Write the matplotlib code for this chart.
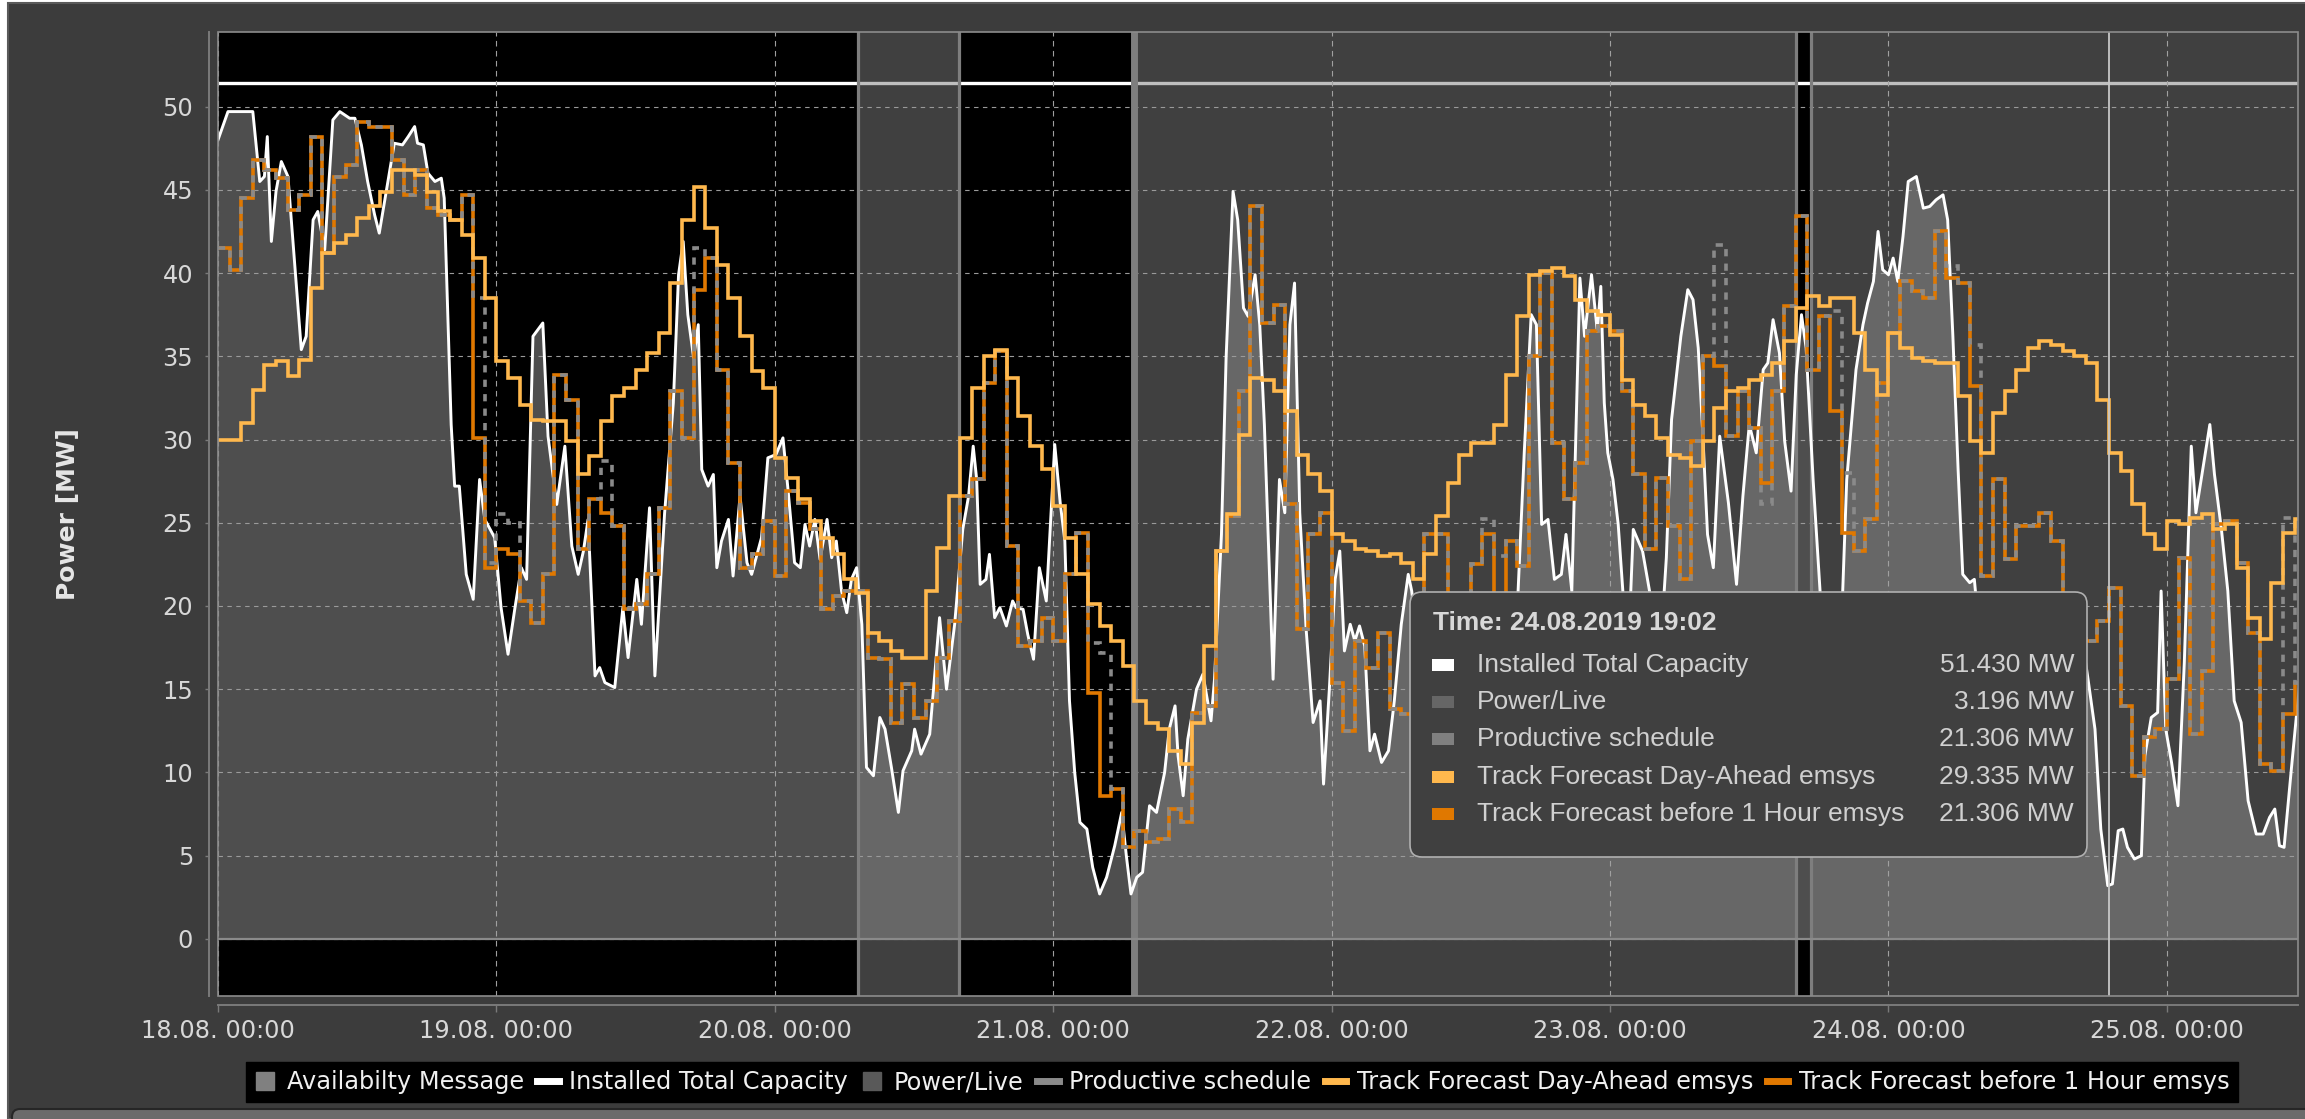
import numpy as np
import pandas as pd
import matplotlib
matplotlib.use('Agg')
import matplotlib.pyplot as plt
import matplotlib.dates as mdates
from matplotlib.lines import Line2D
from matplotlib.patches import FancyBboxPatch, Rectangle
from matplotlib.transforms import IdentityTransform

W, H = 2305, 1119

# ---- data, time in hours since 18.08.2019 00:00 ----
start = pd.Timestamp('2019-08-18 00:00')
x_end_h = 179.3
capacity_mw = 51.43

power_hours = [
    0, 0.86, 3.0, 3.6, 4.0, 4.25, 4.6, 5.0, 5.46, 6.03, 7.18, 7.6, 8.2, 8.6, 9.2, 9.9, 10.5, 11.35, 11.8, 12.36,
    12.9, 13.5, 13.9, 14.65, 15.2, 15.9, 16.4, 16.95, 17.2, 17.7, 18.1, 18.7, 19.25, 19.5, 20.1, 20.4, 20.8, 21.4,
    22.0, 22.55, 23.0, 23.85, 24.4, 25.0, 25.6, 26.15, 26.6, 27.15, 28.0, 28.45, 29.2, 29.9,
    30.5, 31.05, 31.5, 31.9, 32.5, 32.9, 33.35, 34.2, 34.9, 35.35, 36.1, 36.5, 37.2, 37.66, 38.5, 39.25, 39.7,
    40.1, 40.5, 41.0, 41.4, 41.7, 42.25, 42.7, 43.0, 43.4, 44.0, 44.4, 45.0, 45.6, 46.0, 46.85, 47.4, 48.1, 48.7,
    49.15, 49.7, 50.2, 50.6, 51.0, 51.45, 51.9, 52.5, 52.9, 53.3, 53.75, 54.2, 54.6, 55.05, 55.5, 55.9, 56.5,
    57.05, 57.5, 58.05, 58.65, 59.05, 59.8,
    60.05, 60.6, 61.35, 62.2, 62.8, 63.5, 64.2, 64.7, 65.1, 65.4, 65.7, 66.2, 66.5, 66.95, 67.4, 67.96, 68.5,
    68.8, 69.4, 69.8, 70.3, 70.8, 71.4, 72.13, 72.6, 73.0, 73.4, 73.85, 74.3, 74.9, 75.4, 76.0, 76.6, 77.3, 77.9,
    78.3, 78.7, 79.2, 79.7, 80.3, 80.9, 81.6, 82.0, 82.5, 82.76, 83.2, 83.6, 84.35, 84.9, 85.6, 85.9, 86.5, 86.9,
    87.5, 87.9, 88.4, 88.8, 89.4,
    89.8, 90.2, 90.95, 91.5, 91.96, 92.4, 92.8, 93.25, 93.8, 94.4, 95.0, 95.3, 95.8, 96.3, 96.7, 97.1, 97.6, 98.0,
    98.4, 98.85, 99.3, 99.7, 100.3, 100.9, 101.4, 102.0, 102.6, 102.9, 103.5, 104.2, 105.0, 105.8, 106.5, 107.3,
    108.2, 109.0, 109.8, 110.6, 111.4, 112.07, 112.6, 113.2, 113.65, 114.1, 114.65, 115.2, 115.8, 116.2, 116.7,
    117.4, 117.8, 118.4, 118.9, 119.2,
    119.5, 119.8, 120.25, 120.7, 121.1, 121.5, 122.0, 122.8, 123.4, 123.9, 124.4, 124.85, 125.3, 126.1, 126.7,
    127.15, 127.6, 128.0, 128.4, 128.9, 129.45, 130.2, 130.9, 131.45, 132.0, 132.6, 133.2, 133.6, 134.05, 134.6,
    135.05, 135.6, 136.05, 136.5, 136.9, 137.5, 138.1, 138.6, 139.2, 139.8, 140.4, 141.2, 141.8, 142.2, 142.7,
    143.1, 143.5, 144.0, 144.4, 144.8, 145.25, 145.7, 146.4, 147.0, 147.55, 148.1, 148.7,
    149.1, 149.55, 150.0, 150.4, 151.0, 151.4, 152, 153, 154, 155, 156, 157, 158, 159, 160, 160.7, 161.2, 161.8,
    162.3, 162.9, 163.3, 163.8, 164.2, 164.6, 165.2, 165.8, 166.1, 166.65, 167.2, 167.5, 167.9, 168.4, 168.95,
    169.5, 170.1, 170.5, 170.95, 171.7, 172.1, 172.7, 173.25, 173.8, 174.4, 175.0, 175.7, 176.3, 176.85, 177.3,
    177.7, 178.1, 178.7, 179.15, 179.4,
]
power_mw = [
    48.0, 49.7, 49.7, 45.5, 45.8, 48.2, 41.9, 44.9, 46.7, 45.8, 35.4, 36.2, 43.2, 43.7, 41.4, 49.2, 49.7, 49.3, 49.3, 47.7,
    45.5, 43.5, 42.4, 45.5, 47.8, 47.7, 48.2, 48.8, 47.8, 47.7, 46.0, 45.5, 45.7, 44.5, 30.9, 27.2, 27.2, 21.9,
    20.4, 27.6, 25.2, 24.1, 19.9, 17.1, 19.9, 22.3, 21.6, 36.2, 37.0, 30.2, 26.1, 29.6,
    23.6, 21.9, 23.3, 25.2, 15.8, 16.3, 15.4, 15.1, 19.9, 16.9, 21.6, 18.9, 25.9, 15.8, 25.6, 32.2, 39.9,
    41.9, 37.5, 34.9, 36.9, 28.2, 27.2, 27.9, 22.3, 23.9, 25.2, 21.8, 26.6, 22.6, 21.9, 24.1, 28.9, 29.1, 30.1,
    26.9, 22.6, 22.3, 24.9, 23.6, 25.2, 22.8, 25.2, 22.9, 23.9, 20.9, 19.6, 21.6, 22.3, 18.9, 10.3, 9.8,
    13.3, 12.6, 10.3, 7.6, 10.1, 11.3,
    12.6, 11.1, 12.3, 19.3, 15.0, 18.9, 24.6, 26.6, 29.6, 27.6, 21.3, 21.6, 23.1, 19.3, 19.9, 18.8, 20.3,
    19.9, 19.8, 18.3, 16.8, 22.3, 20.3, 29.7, 26.2, 23.9, 14.3, 10.0, 7.0, 6.6, 4.3, 2.7, 3.7, 5.6, 7.6,
    5.0, 2.7, 3.7, 4.0, 8.0, 7.6, 10.0, 12.6, 14.0, 11.0, 8.6, 12.0, 15.0, 15.9, 13.1, 15.6, 24.3, 34.9,
    44.9, 43.2, 37.9, 37.4, 39.9,
    36.9, 30.9, 15.6, 27.6, 25.6, 36.9, 39.4, 25.6, 18.6, 13.0, 14.3, 9.3, 15.0, 21.6, 23.3, 17.3, 18.9, 17.9,
    18.8, 17.6, 11.3, 12.3, 10.6, 11.3, 14.3, 18.9, 21.9, 20.9, 17.0, 13.0, 16.0, 11.0, 15.0, 19.0,
    14.0, 17.0, 12.0, 16.0, 14.0, 20.9, 29.2, 37.5, 36.9, 24.9, 25.2, 21.6, 21.9, 24.3, 20.9,
    39.7, 36.2, 39.9, 36.5, 39.2,
    32.2, 29.2, 27.6, 24.9, 20.9, 16.0, 24.6, 23.3, 20.9, 15.0, 18.0, 22.9, 31.2, 36.2, 39.0,
    38.4, 35.5, 30.2, 24.3, 22.3, 30.2, 26.2, 21.3, 26.6, 30.9, 29.2, 34.2, 34.6, 37.2, 35.2,
    29.9, 26.9, 33.9, 37.5, 35.5, 27.6, 20.9, 14.0, 10.0, 16.0, 27.6, 34.2, 36.9, 38.2, 39.5,
    42.5, 40.2, 39.9, 40.9, 39.5, 42.2, 45.5, 45.8, 43.9, 44.0, 44.4, 44.7,
    43.2, 36.2, 28.2, 21.9, 21.4, 21.6, 17.0, 12.0, 15.0, 10.0, 14.0, 18.0, 13.0, 16.0, 12.0, 18.0, 15.6, 12.6,
    6.6, 3.2, 3.3, 6.5, 6.6, 5.5, 4.8, 5.0, 11.0, 13.3, 13.6, 20.9, 12.6, 10.6, 8.0,
    16.6, 29.6, 25.6, 27.6, 30.9, 27.9, 24.6, 20.9, 14.3, 13.0, 8.3, 6.3, 6.3, 7.3, 7.8,
    5.6, 5.5, 10.0, 13.3, 15.0,
]

# hourly forecasts, first value = 18.08. 00:00
day_ahead_mw = [
    30.0, 30.0, 31.0, 33.0, 34.5, 34.7, 33.8, 34.8, 39.1, 41.2, 41.8, 42.3, 43.3, 44.0, 44.9, 46.2, 46.2, 45.9, 44.9, 43.7,
    43.2, 42.3, 40.9, 38.5, 34.7, 33.7, 32.1, 31.2, 31.1, 31.1, 29.9, 27.9, 29.0, 31.1, 32.6, 33.1, 34.2, 35.2, 36.4, 39.4,
    43.2, 45.2, 42.7, 40.5, 38.5, 36.2, 34.1, 33.1, 28.9, 27.7, 26.4, 25.1, 24.1, 23.1, 21.6, 20.8, 18.4, 17.9, 17.3, 16.9,
    16.9, 20.9, 23.5, 26.6, 30.1, 33.1, 35.0, 35.4, 33.7, 31.4, 29.6, 28.2, 26.0, 24.1, 21.9, 20.1, 18.8, 17.9, 16.4, 14.3,
    13.0, 12.6, 11.3, 10.5, 13.0, 17.6, 23.3, 25.5, 30.3, 33.7, 33.6, 32.9, 31.7, 29.1, 27.9, 26.9, 24.3, 23.9, 23.4, 23.3,
    23.0, 23.1, 22.6, 21.6, 23.1, 25.4, 27.4, 29.1, 29.8, 29.8, 30.9, 33.9, 37.4, 39.9, 40.1, 40.3, 39.8, 38.4, 37.7, 37.5,
    36.3, 33.6, 32.1, 31.4, 30.1, 29.1, 28.9, 28.4, 29.9, 31.9, 32.9, 33.1, 33.6, 33.9, 34.6, 35.9, 37.9, 38.6, 38.0, 38.5,
    38.5, 36.4, 34.2, 32.7, 36.4, 35.5, 34.9, 34.7, 34.6, 34.6, 32.6, 29.9, 29.2, 31.6, 32.9, 34.2, 35.5, 35.9, 35.7, 35.3,
    35.0, 34.6, 32.4, 29.2, 28.1, 26.1, 24.3, 23.4, 25.1, 24.9, 25.3, 25.5, 24.6, 24.9, 22.3, 19.3, 18.0, 21.4, 24.4, 25.2,
]
before_1h_mw = [
    41.5, 40.2, 44.5, 46.8, 46.2, 45.7, 43.8, 44.7, 48.2, 41.2, 45.8, 46.5, 49.1, 48.8, 48.8, 46.8, 44.7, 46.2, 43.9, 43.5,
    43.2, 44.7, 30.1, 22.3, 23.4, 23.1, 20.3, 19.0, 21.9, 33.9, 32.4, 23.4, 26.4, 25.6, 24.8, 19.8, 20.1, 21.9, 25.9, 32.9,
    30.1, 39.0, 40.9, 34.2, 28.6, 22.3, 23.1, 25.1, 21.8, 26.9, 26.2, 24.6, 19.8, 20.6, 20.9, 20.9, 16.9, 16.8, 13.0, 15.3,
    13.3, 14.3, 16.9, 19.1, 26.6, 27.6, 33.4, 35.3, 23.6, 17.6, 17.9, 19.3, 17.9, 21.9, 24.4, 14.8, 8.6, 9.0, 5.5, 6.5,
    5.8, 6.0, 7.8, 7.0, 13.6, 14.0, 23.3, 25.4, 32.9, 44.0, 37.0, 38.1, 26.1, 18.6, 24.3, 25.6, 15.4, 12.5, 17.9, 16.3,
    18.4, 13.8, 13.5, 19.0, 24.3, 24.3, 18.0, 17.0, 22.5, 24.3, 18.0, 23.9, 22.4, 35.0, 40.0, 29.8, 26.4, 28.6, 36.5, 36.8,
    36.5, 32.9, 27.9, 23.4, 27.7, 24.8, 21.6, 29.9, 35.0, 34.4, 30.2, 32.9, 30.7, 27.4, 32.9, 38.0, 43.4, 34.2, 37.4, 31.7,
    24.4, 23.3, 25.2, 33.4, 36.4, 39.5, 38.9, 38.5, 42.5, 39.7, 39.4, 33.2, 21.8, 27.6, 22.8, 24.8, 24.8, 25.6, 23.9, 19.0,
    18.0, 17.9, 19.1, 21.1, 14.0, 9.8, 12.1, 12.6, 15.6, 22.9, 12.3, 16.1, 24.9, 25.1, 22.6, 18.4, 10.5, 10.1, 13.5, 15.4,
]
# productive schedule follows the 1h forecast except in these hours
schedule_hours = [22, 23, 24, 25, 33, 41, 75, 76, 109, 110, 129, 133, 139, 140, 149, 151, 178]
schedule_mw = [38.5, 22.6, 25.5, 25.0, 28.7, 41.5, 17.8, 17.2, 25.2, 23.0, 41.7, 26.1, 37.7, 28.0, 40.4, 35.7, 25.3]

# availability message: grey periods (hours) and the borders between states
avail_from_h = [55.15, 79.2, 137.3]
avail_to_h = [63.9, 136.0, x_end_h]
avail_border_h = [55.15, 63.9, 136.0, 137.3]
avail_thick_border_h = 79.0

cursor_h = 6 * 24 + 19 + 2 / 60
tooltip_names = ['Installed Total Capacity', 'Power/Live', 'Productive schedule',
                 'Track Forecast Day-Ahead emsys', 'Track Forecast before 1 Hour emsys']
tooltip_values = ['51.430 MW', '3.196 MW', '21.306 MW', '29.335 MW', '21.306 MW']

c_live_fill = '#4e4e4e'
c_sched = '#8a8a8a'
c_da = '#ffb84d'
c_1h = '#e07800'
c_text = '#e6e6e6'

t0 = mdates.date2num(start)


def hnum(h):
    return t0 + np.asarray(h, dtype=float) / 24.0


schedule = list(before_1h_mw)
for h, v in zip(schedule_hours, schedule_mw):
    schedule[h] = v
edges = hnum(np.arange(len(day_ahead_mw) + 1))

fig = plt.figure(figsize=(W / 100, H / 100), dpi=100, facecolor='white')
fig.add_artist(Rectangle((8, 0), W, H - 3, transform=IdentityTransform(),
                         facecolor='#3c3c3c', edgecolor='#5a5a5a', lw=1.5, zorder=-5))

ax = fig.add_axes([218 / W, 1 - 996 / H, 2080 / W, (996 - 31.7) / H])
ax.set_facecolor('black')

# Power/Live area
ax.fill_between(hnum(power_hours), 0, power_mw, color=c_live_fill, lw=0, zorder=1)
ax.axhline(capacity_mw, color='white', lw=2.4, zorder=1.5)

# availability overlay
for a, b in zip(avail_from_h, avail_to_h):
    ax.axvspan(hnum(a), hnum(b), color='#808080', alpha=0.5, lw=0, zorder=2)
for b in avail_border_h:
    ax.axvline(hnum(b), color='#7e7e7e', lw=2.3, zorder=2.6)
ax.axvline(hnum(avail_thick_border_h), color='#7e7e7e', lw=5, zorder=2.6)
ax.axhline(0, color='#8a8a8a', lw=1.6, zorder=2.7)

ax.plot(hnum(power_hours), power_mw, color='white', lw=2.1, zorder=2.8)
ax.stairs(before_1h_mw, edges, baseline=None, color=c_1h, lw=2.6, zorder=3)
ax.stairs(schedule, edges, baseline=None, color=c_sched, lw=2.6, ls=(0, (2, 2)), zorder=3.1)
ax.stairs(day_ahead_mw, edges, baseline=None, color=c_da, lw=2.6, zorder=3.2)

ax.axvline(hnum(cursor_h), color='#c8c8c8', lw=1.3, zorder=4)

ax.set_xlim(t0, hnum(x_end_h))
ax.set_ylim(-3.43, 54.5)
ax.set_yticks(np.arange(0, 51, 5))
ax.xaxis.set_major_locator(mdates.DayLocator())
ax.xaxis.set_major_formatter(mdates.DateFormatter('%d.%m. %H:%M'))

ax.set_axisbelow(False)
ax.grid(True, axis='y', color='#9a9a9a', lw=0.8, ls=(0, (4, 4)))
ax.grid(True, axis='x', color='#a0a0a0', lw=0.8, ls=(0, (5, 4)))

for side in ['top', 'right']:
    ax.spines[side].set_visible(False)
for side in ['left', 'bottom']:
    ax.spines[side].set_position(('outward', 6.5))
    ax.spines[side].set_color('#7a7a7a')
    ax.spines[side].set_linewidth(1.4)
ax.add_patch(Rectangle((0, 0), 1, 1, transform=ax.transAxes, fill=False,
                       ec='#8c8c8c', lw=1.2, zorder=6, clip_on=False))

ax.tick_params(axis='y', length=3, width=1, color='#7a7a7a', pad=8.5,
               labelsize=17.3, labelcolor='#d8d8d8')
ax.tick_params(axis='x', length=5, width=1, color='#7a7a7a', pad=5,
               labelsize=17.3, labelcolor='#d8d8d8')
ax.set_ylabel('Power [MW]', fontsize=18, fontweight='bold', color=c_text)
ax.yaxis.set_label_coords((80 - 218) / 2080, 0.5)

# legend
handles = [
    Line2D([], [], ls='none', marker='s', ms=12.5, color='#808080'),
    Line2D([], [], color='white', lw=5),
    Line2D([], [], ls='none', marker='s', ms=12.5, color='#595959'),
    Line2D([], [], color=c_sched, lw=5),
    Line2D([], [], color=c_da, lw=5),
    Line2D([], [], color=c_1h, lw=5),
]
labels = ['Availabilty Message', 'Installed Total Capacity', 'Power/Live', 'Productive schedule',
          'Track Forecast Day-Ahead emsys', 'Track Forecast before 1 Hour emsys']
leg = fig.legend(handles, labels, loc='center', bbox_to_anchor=(1242 / W, 1 - 1082 / H), ncol=6,
                 frameon=True, facecolor='black', edgecolor='black', framealpha=1, fancybox=False,
                 fontsize=17.3, labelcolor='#f0f0f0', handlelength=0.9, handletextpad=0.45,
                 columnspacing=0.55, borderpad=0.35, borderaxespad=0)

# bottom bar of the panel
fig.add_artist(FancyBboxPatch((12, -20), W, 30, boxstyle='round,pad=0,rounding_size=8',
                              transform=IdentityTransform(), fc='#6b6b6b', ec='#262626', lw=1.5, zorder=1))

# tooltip
tx0, tx1, ty0, ty1 = 1410, 2087, 592, 857
fig.add_artist(FancyBboxPatch((tx0, H - ty1), tx1 - tx0, ty1 - ty0, boxstyle='round,pad=0,rounding_size=12',
                              transform=IdentityTransform(), fc='#404040', ec='#b0b0b0', lw=1.2, zorder=10))
tip_font = ['Liberation Sans', 'DejaVu Sans']
fig.text(1433 / W, 1 - 623 / H, 'Time: 24.08.2019 19:02', family=tip_font, fontweight='bold',
         fontsize=19, color='#d8d8d8', va='center', zorder=11)
swatches = ['white', '#666666', '#808080', c_da, c_1h]
for i, (name, val, col) in enumerate(zip(tooltip_names, tooltip_values, swatches)):
    yc = 665 + i * 37.2
    fig.add_artist(Rectangle((1432, H - yc - 6), 22, 12, transform=IdentityTransform(),
                             fc=col, lw=0, zorder=11))
    fig.text(1477 / W, 1 - yc / H, name, family=tip_font, fontsize=19, color='#d0d0d0',
             va='center', zorder=11)
    fig.text(2074 / W, 1 - yc / H, val, family=tip_font, fontsize=19, color='#d0d0d0',
             va='center', ha='right', zorder=11)

fig.savefig('out.png', dpi=100, facecolor=fig.get_facecolor())
